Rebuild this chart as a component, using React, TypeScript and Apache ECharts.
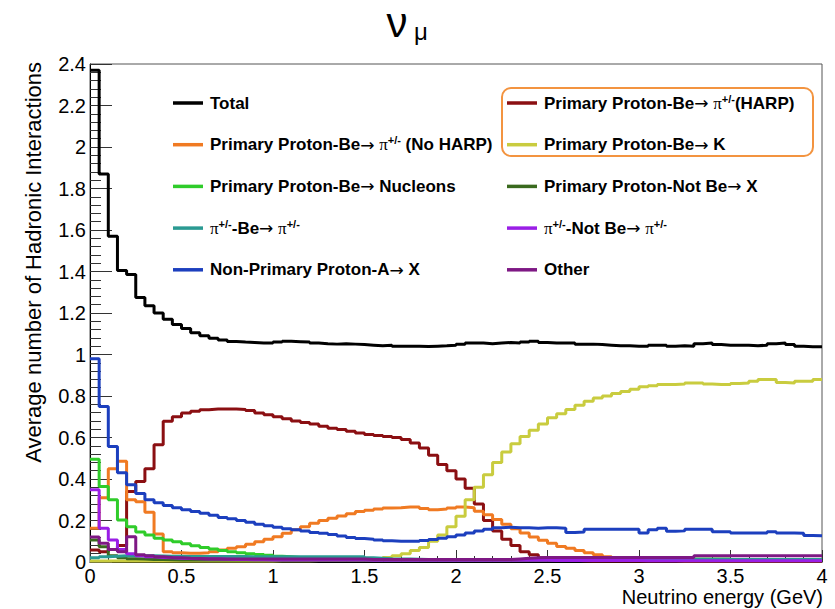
import React, { useEffect, useRef } from 'react';
import * as echarts from 'echarts';

// ---- data (per-bin averages, bins of 0.05 GeV from 0 to 4 GeV) ----
const BIN_WIDTH = 0.05;
const X_RANGE = [0, 4];
const Y_RANGE = [0, 2.4];
const X_TICK_STEP = 0.5;
const Y_TICK_STEP = 0.2;

const TITLE_MAIN = 'ν';
const TITLE_SUB = 'μ';
const X_TITLE = 'Neutrino energy (GeV)';
const Y_TITLE = 'Average number of Hadronic Interactions';

const total = [
  2.37, 1.87, 1.57, 1.405, 1.385, 1.275, 1.235, 1.2, 1.17, 1.145,
  1.125, 1.105, 1.09, 1.078, 1.07, 1.063, 1.06, 1.058, 1.056, 1.055,
  1.06, 1.064, 1.062, 1.06, 1.055, 1.052, 1.05, 1.052, 1.05, 1.048,
  1.045, 1.042, 1.044, 1.04, 1.04, 1.04, 1.038, 1.04, 1.042, 1.045,
  1.05, 1.055, 1.055, 1.052, 1.055, 1.058, 1.055, 1.06, 1.064, 1.058,
  1.055, 1.055, 1.055, 1.05, 1.05, 1.048, 1.045, 1.042, 1.042, 1.04,
  1.04, 1.045, 1.045, 1.04, 1.042, 1.04, 1.052, 1.055, 1.048, 1.045,
  1.045, 1.045, 1.042, 1.045, 1.052, 1.055, 1.048, 1.04, 1.037, 1.037,
];

const harp = [
  0.058, 0.05, 0.06, 0.08, 0.34, 0.388, 0.45, 0.565, 0.678, 0.7,
  0.718, 0.726, 0.734, 0.737, 0.737, 0.737, 0.735, 0.73, 0.718, 0.71,
  0.7, 0.69, 0.68, 0.672, 0.665, 0.654, 0.645, 0.638, 0.63, 0.622,
  0.615, 0.61, 0.605, 0.6, 0.59, 0.573, 0.55, 0.515, 0.47, 0.44,
  0.4, 0.355, 0.28, 0.2, 0.15, 0.11, 0.08, 0.05, 0.035, 0.02,
  0.012, 0.01, 0.008, 0.006, 0.005, 0.005, 0.005, 0.005, 0.005, 0.005,
  0.005, 0.005, 0.005, 0.005, 0.005, 0.005, 0.005, 0.005, 0.005, 0.005,
  0.005, 0.005, 0.005, 0.005, 0.005, 0.005, 0.005, 0.005, 0.005, 0.005,
];

const noHarp = [
  0.163, 0.31, 0.45, 0.485, 0.3, 0.29, 0.24, 0.135, 0.05, 0.045,
  0.042, 0.042, 0.045, 0.05, 0.058, 0.066, 0.074, 0.086, 0.098, 0.11,
  0.122, 0.138, 0.155, 0.17, 0.187, 0.2, 0.211, 0.222, 0.232, 0.243,
  0.25, 0.255, 0.26, 0.262, 0.265, 0.265, 0.258, 0.252, 0.255, 0.26,
  0.265, 0.262, 0.245, 0.228, 0.205, 0.182, 0.16, 0.14, 0.12, 0.105,
  0.09, 0.075, 0.066, 0.055, 0.045, 0.035, 0.025, 0.018, 0.012, 0.01,
  0.008, 0.008, 0.007, 0.007, 0.006, 0.006, 0.006, 0.006, 0.006, 0.006,
  0.006, 0.006, 0.006, 0.006, 0.006, 0.006, 0.006, 0.006, 0.006, 0.006,
];

const kaon = [
  0.005, 0.005, 0.005, 0.005, 0.005, 0.005, 0.005, 0.005, 0.005, 0.005,
  0.005, 0.005, 0.005, 0.005, 0.005, 0.005, 0.005, 0.005, 0.005, 0.005,
  0.006, 0.006, 0.006, 0.006, 0.007, 0.007, 0.007, 0.008, 0.008, 0.009,
  0.01, 0.015, 0.022, 0.03, 0.04, 0.055, 0.07, 0.1, 0.13, 0.17,
  0.22, 0.3, 0.36, 0.42, 0.48, 0.53, 0.57, 0.605, 0.635, 0.665,
  0.695, 0.715, 0.735, 0.755, 0.775, 0.79, 0.8, 0.812, 0.822, 0.832,
  0.845, 0.85, 0.855, 0.855, 0.858, 0.863, 0.863, 0.858, 0.855, 0.855,
  0.86, 0.863, 0.871, 0.879, 0.879, 0.865, 0.863, 0.871, 0.871, 0.879,
];

const nucleons = [
  0.495, 0.364, 0.3, 0.203, 0.17, 0.145, 0.13, 0.115, 0.106, 0.098,
  0.088, 0.078, 0.07, 0.063, 0.056, 0.05, 0.045, 0.04, 0.036, 0.032,
  0.028, 0.025, 0.022, 0.02, 0.018, 0.016, 0.015, 0.014, 0.013, 0.012,
  0.012, 0.012, 0.011, 0.011, 0.011, 0.011, 0.01, 0.01, 0.01, 0.01,
  0.01, 0.01, 0.01, 0.01, 0.01, 0.01, 0.01, 0.01, 0.01, 0.01,
  0.01, 0.01, 0.01, 0.01, 0.01, 0.01, 0.01, 0.01, 0.01, 0.01,
  0.01, 0.01, 0.01, 0.01, 0.01, 0.01, 0.014, 0.014, 0.014, 0.014,
  0.01, 0.01, 0.01, 0.01, 0.01, 0.01, 0.01, 0.01, 0.01, 0.01,
];

const notBeX = [
  0.106, 0.074, 0.03, 0.02, 0.016, 0.014, 0.012, 0.012, 0.011, 0.01,
  0.01, 0.01, 0.01, 0.01, 0.01, 0.01, 0.01, 0.01, 0.01, 0.01,
  0.009, 0.009, 0.009, 0.009, 0.009, 0.009, 0.009, 0.009, 0.009, 0.009,
  0.008, 0.008, 0.008, 0.008, 0.008, 0.008, 0.008, 0.008, 0.008, 0.008,
  0.008, 0.008, 0.008, 0.008, 0.008, 0.008, 0.008, 0.008, 0.008, 0.008,
  0.008, 0.008, 0.008, 0.008, 0.008, 0.008, 0.008, 0.008, 0.008, 0.008,
  0.008, 0.008, 0.008, 0.008, 0.008, 0.008, 0.008, 0.008, 0.008, 0.008,
  0.008, 0.008, 0.008, 0.008, 0.008, 0.008, 0.008, 0.008, 0.008, 0.008,
];

const piBe = [
  0.02, 0.025, 0.028, 0.03, 0.03, 0.03, 0.03, 0.029, 0.028, 0.028,
  0.027, 0.027, 0.027, 0.026, 0.026, 0.026, 0.026, 0.025, 0.025, 0.025,
  0.025, 0.025, 0.025, 0.025, 0.025, 0.025, 0.025, 0.025, 0.025, 0.025,
  0.02, 0.018, 0.016, 0.015, 0.014, 0.013, 0.012, 0.012, 0.012, 0.012,
  0.012, 0.012, 0.012, 0.012, 0.012, 0.012, 0.012, 0.012, 0.012, 0.012,
  0.012, 0.012, 0.012, 0.012, 0.012, 0.012, 0.012, 0.012, 0.012, 0.012,
  0.012, 0.012, 0.012, 0.012, 0.012, 0.012, 0.012, 0.012, 0.012, 0.012,
  0.012, 0.012, 0.012, 0.012, 0.012, 0.012, 0.012, 0.012, 0.012, 0.012,
];

const piNotBe = [
  0.348, 0.163, 0.106, 0.06, 0.04, 0.03, 0.025, 0.022, 0.02, 0.018,
  0.017, 0.016, 0.015, 0.014, 0.013, 0.012, 0.012, 0.011, 0.011, 0.01,
  0.01, 0.01, 0.01, 0.01, 0.01, 0.01, 0.01, 0.01, 0.01, 0.01,
  0.009, 0.009, 0.009, 0.009, 0.009, 0.009, 0.009, 0.009, 0.009, 0.009,
  0.008, 0.008, 0.008, 0.008, 0.008, 0.008, 0.008, 0.008, 0.008, 0.008,
  0.007, 0.007, 0.007, 0.007, 0.007, 0.007, 0.007, 0.007, 0.007, 0.007,
  0.006, 0.006, 0.006, 0.006, 0.006, 0.006, 0.006, 0.006, 0.006, 0.006,
  0.006, 0.006, 0.006, 0.006, 0.006, 0.006, 0.006, 0.006, 0.006, 0.006,
];

const nonPrimary = [
  0.98, 0.75, 0.557, 0.43, 0.372, 0.33, 0.3, 0.285, 0.272, 0.262,
  0.252, 0.243, 0.235, 0.225, 0.215, 0.208, 0.2, 0.192, 0.182, 0.175,
  0.168, 0.16, 0.155, 0.15, 0.142, 0.138, 0.132, 0.125, 0.118, 0.113,
  0.11, 0.106, 0.102, 0.1, 0.1, 0.1, 0.104, 0.108, 0.115, 0.122,
  0.13, 0.14, 0.15, 0.158, 0.165, 0.168, 0.165, 0.165, 0.163, 0.165,
  0.165, 0.163, 0.142, 0.145, 0.158, 0.158, 0.158, 0.158, 0.158, 0.158,
  0.14, 0.155, 0.163, 0.148, 0.15, 0.158, 0.158, 0.158, 0.146, 0.146,
  0.14, 0.14, 0.14, 0.14, 0.146, 0.14, 0.14, 0.138, 0.128, 0.126,
];

const other = [
  0.12, 0.09, 0.06, 0.05, 0.122, 0.035, 0.03, 0.025, 0.022, 0.02,
  0.018, 0.017, 0.016, 0.016, 0.015, 0.015, 0.015, 0.015, 0.015, 0.015,
  0.015, 0.015, 0.015, 0.015, 0.015, 0.015, 0.015, 0.015, 0.015, 0.015,
  0.012, 0.012, 0.012, 0.012, 0.012, 0.012, 0.012, 0.012, 0.012, 0.012,
  0.012, 0.012, 0.012, 0.012, 0.012, 0.012, 0.015, 0.018, 0.02, 0.022,
  0.022, 0.022, 0.022, 0.022, 0.022, 0.022, 0.022, 0.022, 0.022, 0.022,
  0.022, 0.022, 0.022, 0.022, 0.022, 0.022, 0.03, 0.03, 0.03, 0.03,
  0.03, 0.03, 0.03, 0.03, 0.03, 0.03, 0.03, 0.03, 0.03, 0.03,
];

const NAMES = {
  total: 'Total',
  harp: 'Primary Proton-Be→ π+/-(HARP)',
  noHarp: 'Primary Proton-Be→ π+/- (No HARP)',
  kaon: 'Primary Proton-Be→ K',
  nucleons: 'Primary Proton-Be→ Nucleons',
  notBeX: 'Primary Proton-Not Be→ X',
  piBe: 'π+/--Be→ π+/-',
  piNotBe: 'π+/--Not Be→ π+/-',
  nonPrimary: 'Non-Primary Proton-A→ X',
  other: 'Other',
};

const COLORS = {
  total: '#000000',
  harp: '#8b0f12',
  noHarp: '#f07a22',
  kaon: '#c9cc3f',
  nucleons: '#2fcc2a',
  notBeX: '#3a6a1e',
  piBe: '#2a9a92',
  piNotBe: '#9a1ee6',
  nonPrimary: '#1c3fbe',
  other: '#7e1884',
};

const VALUES = { total, harp, noHarp, kaon, nucleons, notBeX, piBe, piNotBe, nonPrimary, other };

const DRAW_ORDER = ['total', 'harp', 'noHarp', 'kaon', 'nucleons', 'notBeX', 'piBe', 'piNotBe', 'nonPrimary', 'other'];
const LEGEND_LEFT = ['total', 'noHarp', 'nucleons', 'piBe', 'nonPrimary'];
const LEGEND_RIGHT = ['harp', 'kaon', 'notBeX', 'piNotBe', 'other'];

const FONT = "'Liberation Sans', Arial, Helvetica, sans-serif";
const SERIF = "'Liberation Serif', 'DejaVu Serif', serif";

function toSteps(values: number[]) {
  const pts = values.map((v, i) => [i * BIN_WIDTH, v]);
  pts.push([values.length * BIN_WIDTH, values[values.length - 1]]);
  return pts;
}

function plainTokens(s: string) {
  return s
    .split('→')
    .map((p) => (p ? `{t|${p}}` : ''))
    .join('{ar|→}');
}

function legendFormatter(name: string) {
  return name
    .split('π+/-')
    .map((s) => (s ? plainTokens(s) : ''))
    .join('{pi|π}{sup|+/-}');
}

const legendRich = {
  t: { fontSize: 17, fontWeight: 'bold', fontFamily: FONT, color: '#000', lineHeight: 20 },
  ar: { fontSize: 17, fontFamily: "'DejaVu Sans', sans-serif", color: '#000', lineHeight: 20 },
  pi: { fontSize: 17, fontFamily: SERIF, color: '#000', lineHeight: 20 },
  sup: { fontSize: 11, fontWeight: 'bold', fontFamily: FONT, color: '#000', verticalAlign: 'top', lineHeight: 12 },
};

function makeLegend(keys: string[], left: number) {
  return {
    orient: 'vertical',
    left,
    top: 93,
    padding: 0,
    itemGap: 21.7,
    itemWidth: 30,
    itemHeight: 3.5,
    icon: 'rect',
    selectedMode: false,
    data: keys.map((k) => ({ name: (NAMES as any)[k], icon: 'rect' })),
    formatter: legendFormatter,
    textStyle: { rich: legendRich, fontSize: 17, lineHeight: 20, padding: [0, 0, 0, 2] },
  };
}

export default function App() {
  const ref = useRef<HTMLDivElement>(null);
  useEffect(() => {
    if (!ref.current) return;
    const chart = echarts.init(ref.current, null, { renderer: 'svg' });
    const series = DRAW_ORDER.map((k) => ({
      name: (NAMES as any)[k],
      type: 'line',
      step: 'end',
      symbol: 'none',
      showSymbol: false,
      data: toSteps((VALUES as any)[k]),
      lineStyle: { color: (COLORS as any)[k], width: 3 },
      itemStyle: { color: (COLORS as any)[k] },
      clip: true,
      z: 2,
    }));
    chart.setOption({
      animation: false,
      backgroundColor: '#ffffff',
      textStyle: { fontFamily: FONT },
      grid: {
        left: 90,
        right: 13,
        top: 64,
        bottom: 47,
        show: true,
        borderColor: '#555',
        borderWidth: 1,
        backgroundColor: 'transparent',
      },
      legend: [makeLegend(LEGEND_LEFT, 173), makeLegend(LEGEND_RIGHT, 507)],
      xAxis: {
        type: 'value',
        min: X_RANGE[0],
        max: X_RANGE[1],
        interval: X_TICK_STEP,
        axisLine: { show: true, onZero: false, lineStyle: { color: '#000', width: 1 } },
        axisTick: { show: true, inside: true, length: 12, lineStyle: { color: '#333' } },
        minorTick: { show: true, splitNumber: 5, length: 6, lineStyle: { color: '#333' } },
        splitLine: { show: false },
        axisLabel: { fontSize: 20, color: '#000', margin: 4, fontFamily: FONT },
      },
      yAxis: {
        type: 'value',
        min: Y_RANGE[0],
        max: Y_RANGE[1],
        interval: Y_TICK_STEP,
        axisLine: { show: true, onZero: false, lineStyle: { color: '#000', width: 1 } },
        axisTick: { show: true, inside: true, length: 22, lineStyle: { color: '#333' } },
        minorTick: { show: true, splitNumber: 5, length: 11, lineStyle: { color: '#333' } },
        splitLine: { show: false },
        axisLabel: { fontSize: 20, color: '#000', margin: 4, fontFamily: FONT },
      },
      graphic: [
        {
          type: 'text',
          x: 397,
          y: 22,
          style: { text: TITLE_MAIN, font: `42px ${FONT}`, fill: '#000', textAlign: 'center', textVerticalAlign: 'middle' },
        },
        {
          type: 'text',
          x: 421,
          y: 31,
          style: { text: TITLE_SUB, font: `24px ${FONT}`, fill: '#000', textAlign: 'center', textVerticalAlign: 'middle' },
        },
        {
          type: 'text',
          x: 33,
          y: 62,
          rotation: Math.PI / 2,
          style: { text: Y_TITLE, font: `22px ${FONT}`, fill: '#000', textAlign: 'right', textVerticalAlign: 'middle' },
        },
        {
          type: 'text',
          x: 823,
          y: 597,
          style: { text: X_TITLE, font: `20px ${FONT}`, fill: '#000', textAlign: 'right', textVerticalAlign: 'middle' },
        },
        {
          type: 'rect',
          shape: { x: 502, y: 88, width: 311, height: 68, r: 9 },
          style: { fill: 'none', stroke: '#f39440', lineWidth: 2 },
          z: 10,
        },
      ],
      series,
    });
    return () => chart.dispose();
  }, []);
  return (
    <div
      ref={ref}
      style={{ position: 'fixed', left: 0, top: 0, width: 835, height: 609, background: '#fff' }}
    />
  );
}
